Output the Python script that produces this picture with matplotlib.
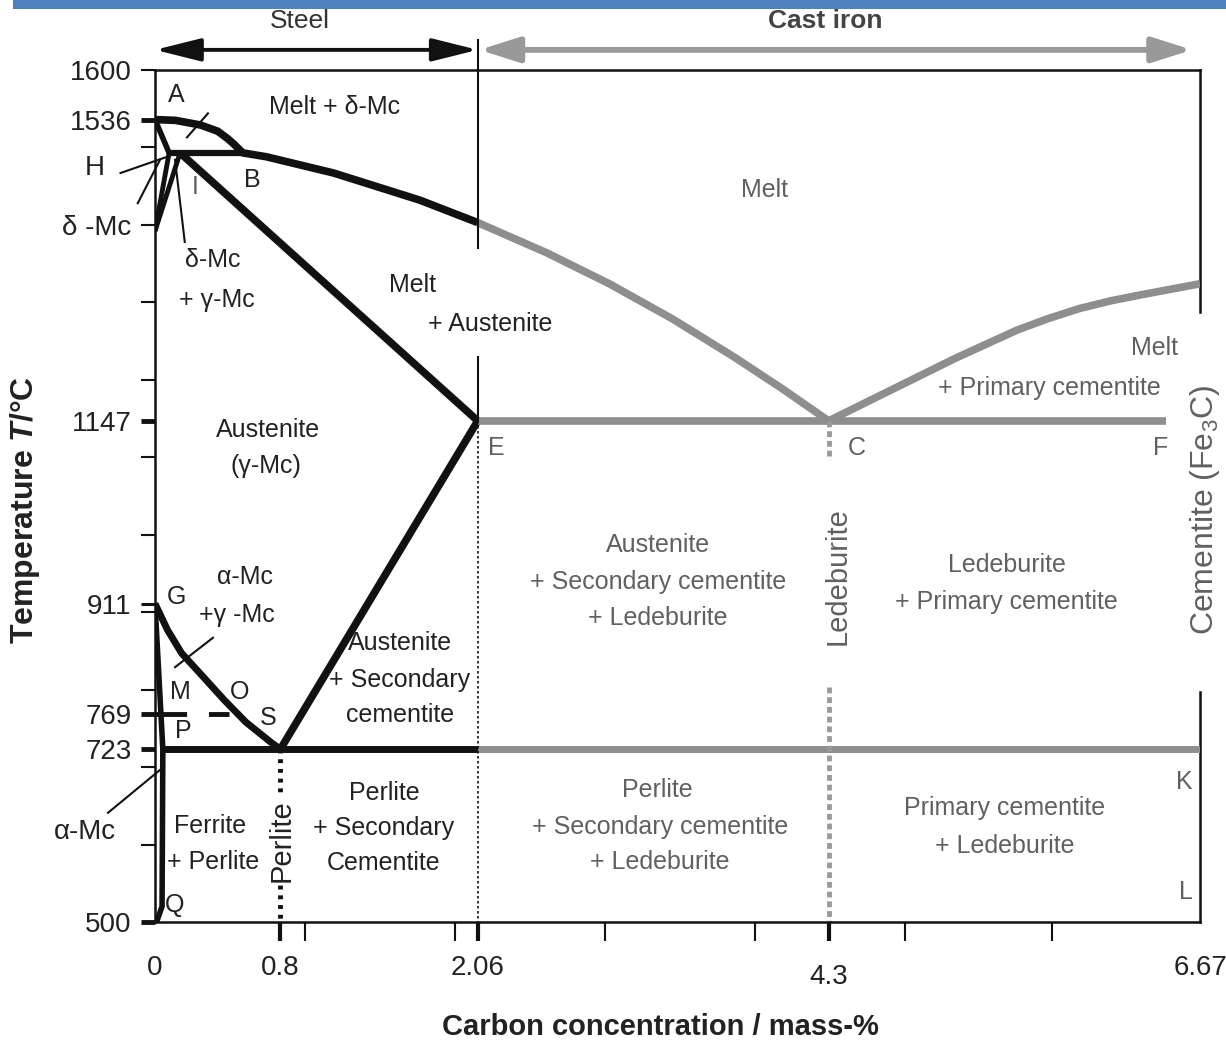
import matplotlib
matplotlib.use("Agg")
import matplotlib.pyplot as plt
from matplotlib.patches import Rectangle

plt.rcParams['font.family'] = ['Liberation Sans', 'DejaVu Sans']
plt.rcParams['mathtext.fontset'] = 'custom'
plt.rcParams['mathtext.rm'] = 'Liberation Sans'
plt.rcParams['mathtext.it'] = 'Liberation Sans:italic:bold'
plt.rcParams['mathtext.bf'] = 'Liberation Sans:bold'

# phase boundaries (carbon mass-%, temperature degC)
liq_steel_x = [0, 0.13, 0.29, 0.40, 0.46, 0.50, 0.56, 0.71, 1.14, 1.69, 2.06]
liq_steel_T = [1536, 1535, 1529, 1521, 1512, 1505, 1493, 1488, 1467, 1432, 1403]
liq_cast_x = [2.06, 2.5, 2.9, 3.3, 3.7, 4.0, 4.3]
liq_cast_T = [1403, 1364, 1324, 1279, 1229, 1189, 1147]
liq_cem_x = [4.3, 4.7, 5.1, 5.5, 5.7, 5.9, 6.1, 6.3, 6.67]
liq_cem_T = [1147, 1187, 1227, 1264, 1279, 1292, 1302, 1310, 1324]
gs_x = [0, 0.08, 0.17, 0.31, 0.44, 0.58, 0.74, 0.8]
gs_T = [911, 877, 847, 816, 787, 758, 732, 723]
gpq_x = [0, 0.05, 0.045, 0.01]
gpq_T = [911, 723, 520, 500]

A = (0, 1536)
H = (0.09, 1493)
J = (0.16, 1493)
B = (0.56, 1493)
N = (0, 1392)
E = (2.06, 1147)
C = (4.3, 1147)
F = (6.45, 1147)
S = (0.8, 723)
P = (0.05, 723)
K = (6.67, 723)
O_x = 0.47
T_curie = 769

yticks = [500, 723, 769, 911, 1147, 1400, 1536, 1600]
ytick_labels = ['500', '723', '769', '911', '1147', 'δ -Mc', '1536', '1600']
yminor = [600, 700, 800, 900, 1000, 1100, 1200, 1300, 1500]
xticks = [0, 0.8, 2.06, 4.3, 6.67]
xtick_labels = ['0', '0.8', '2.06', '4.3', '6.67']
xminor = [0.957, 1.915, 2.872, 3.829, 4.786, 5.724]

BLACK = '#111111'
GRAY = '#8e8e8e'
TBLACK = '#222222'
TGRAY = '#606060'

fig = plt.figure(figsize=(12.26, 10.43), dpi=100)
fig.add_artist(Rectangle((13 / 1226, 1 - 9 / 1043), 1, 9 / 1043,
                         transform=fig.transFigure, color='#4f81bd', lw=0))
ax = fig.add_axes([155 / 1226, 1 - 922 / 1043, 1045 / 1226, 852 / 1043])
ax.set_xlim(0, 6.67)
ax.set_ylim(500, 1600)

for s in ['left', 'top', 'bottom']:
    ax.spines[s].set_linewidth(1.8)
    ax.spines[s].set_color(BLACK)
ax.spines['right'].set_visible(False)
ax.plot([6.67, 6.67], [1600, 1287], color=BLACK, lw=1.8, clip_on=False)
ax.plot([6.67, 6.67], [797, 500], color=BLACK, lw=1.8, clip_on=False)

kw = dict(solid_capstyle='butt', solid_joinstyle='round')
# black (steel) part
ax.plot(liq_steel_x, liq_steel_T, color=BLACK, lw=5.5, **kw)
ax.plot([A[0], H[0]], [A[1], H[1]], color=BLACK, lw=4, **kw)
ax.plot([H[0], B[0]], [H[1], B[1]], color=BLACK, lw=4.5, **kw)
ax.plot([H[0], N[0]], [H[1], N[1]], color=BLACK, lw=3.5, **kw)
ax.plot([J[0], N[0]], [J[1], N[1]], color=BLACK, lw=3.5, **kw)
ax.plot([J[0], E[0]], [J[1], E[1]], color=BLACK, lw=5.5, **kw)
ax.plot([S[0], E[0]], [S[1], E[1]], color=BLACK, lw=5.5, **kw)
ax.plot(gs_x, gs_T, color=BLACK, lw=5, **kw)
ax.plot(gpq_x, gpq_T, color=BLACK, lw=4, **kw)
ax.plot([P[0], E[0]], [P[1], S[1]], color=BLACK, lw=5, **kw)
mo, = ax.plot([0, O_x], [T_curie, T_curie], color=BLACK, lw=3.5, solid_capstyle='butt')
mo.set_dashes([6.5, 4.5])
# grey (cast iron) part
ax.plot(liq_cast_x, liq_cast_T, color=GRAY, lw=5.5, **kw)
ax.plot(liq_cem_x, liq_cem_T, color=GRAY, lw=5.5, **kw)
ax.plot([E[0], F[0]], [E[1], F[1]], color=GRAY, lw=5.5, **kw)
ax.plot([E[0], K[0]], [S[1], K[1]], color=GRAY, lw=5, **kw)

# guide lines
ax.plot([2.06, 2.06], [1639, 1370], color=BLACK, lw=1.5, clip_on=False)
ax.plot([2.06, 2.06], [1229, 1147], color=BLACK, lw=1.5)
ax.plot([2.06, 2.06], [1147, 500], color=BLACK, lw=1.2, ls=(0, (1.5, 1.5)))
ax.plot([0.8, 0.8], [723, 500], color=BLACK, lw=3.5, ls=(0, (0.8, 1.2)))
ax.plot([4.3, 4.3], [1147, 1096], color='#9a9a9a', lw=3.5, ls=(0, (1.2, 0.8)))
ax.plot([4.3, 4.3], [803, 500], color='#9a9a9a', lw=3.5, ls=(0, (1.2, 0.8)))

# leader lines
leaders = [((-0.22, 1467), (0.064, 1487)), ((-0.11, 1428), (0.032, 1484)),
           ((0.19, 1378), (0.128, 1484)), ((0.204, 1513), (0.338, 1544)),
           ((0.128, 829), (0.37, 867)), ((-0.30, 641), (0.03, 696))]
for (x0, y0), (x1, y1) in leaders:
    ax.plot([x0, x1], [y0, y1], color=BLACK, lw=1.5, clip_on=False)

# steel / cast iron arrows
ax.annotate('', xy=(0.0, 1626), xytext=(2.06, 1626), annotation_clip=False,
            arrowprops=dict(arrowstyle='<|-|>,head_length=1.4,head_width=0.35',
                            mutation_scale=20, color=BLACK, lw=2.8, shrinkA=0, shrinkB=0))
ax.annotate('', xy=(2.07, 1626), xytext=(6.62, 1626), annotation_clip=False,
            arrowprops=dict(arrowstyle='<|-|>,head_length=1.2,head_width=0.38',
                            mutation_scale=20, color='#999999', lw=4.2, shrinkA=0, shrinkB=0))
ax.text(0.925, 1663, 'Steel', ha='center', va='center', fontsize=19, color='#333333')
ax.text(4.276, 1663, 'Cast iron', ha='center', va='center', fontsize=19,
        color='#444444', fontweight='bold')


def lab(x, T, s, c=TBLACK, size=18, **k):
    ax.text(x, T, s, ha='center', va='center', fontsize=size, color=c, **k)


lab(0.134, 1568, 'A')
lab(1.149, 1552, 'Melt + δ-Mc')
lab(-0.383, 1473, 'H', size=20)
lab(0.255, 1449, 'I', c=TGRAY)
lab(0.619, 1458, 'B')
lab(0.37, 1355, 'δ-Mc')
lab(0.396, 1303, '+ γ-Mc')
lab(3.893, 1445, 'Melt', c=TGRAY)
lab(1.646, 1322, 'Melt')
lab(2.138, 1272, '+ Austenite')
lab(6.38, 1241, 'Melt', c=TGRAY)
lab(5.71, 1189, '+ Primary cementite', c=TGRAY)
lab(0.721, 1135, 'Austenite')
lab(0.708, 1089, '(γ-Mc)')
lab(2.18, 1112, 'E', c=TGRAY)
lab(4.48, 1112, 'C', c=TGRAY)
lab(6.42, 1112, 'F', c=TGRAY)
lab(3.21, 987, 'Austenite', c=TGRAY)
lab(3.21, 939, '+ Secondary cementite', c=TGRAY)
lab(3.21, 892, '+ Ledeburite', c=TGRAY)
lab(5.437, 961, 'Ledeburite', c=TGRAY)
lab(5.437, 913, '+ Primary cementite', c=TGRAY)
lab(0.574, 945, 'α-Mc')
lab(0.523, 896, '+γ -Mc')
lab(0.134, 920, 'G')
lab(1.563, 860, 'Austenite')
lab(1.563, 812, '+ Secondary')
lab(1.563, 767, 'cementite')
lab(0.16, 797, 'M')
lab(0.542, 797, 'O')
lab(0.721, 763, 'S')
lab(0.179, 747, 'P')
lab(1.461, 667, 'Perlite')
lab(1.461, 621, '+ Secondary')
lab(1.461, 576, 'Cementite')
lab(0.351, 624, 'Ferrite')
lab(0.37, 577, '+ Perlite')
lab(-0.447, 616, 'α-Mc', size=20)
lab(3.204, 670, 'Perlite', c=TGRAY)
lab(3.223, 623, '+ Secondary cementite', c=TGRAY)
lab(3.223, 577, '+ Ledeburite', c=TGRAY)
lab(5.424, 647, 'Primary cementite', c=TGRAY)
lab(5.424, 598, '+ Ledeburite', c=TGRAY)
lab(6.567, 681, 'K', c=TGRAY)
lab(6.58, 539, 'L', c=TGRAY)
lab(0.128, 522, 'Q')
lab(0.81, 605, 'Perlite', size=21, rotation=90, zorder=5,
    bbox=dict(facecolor='white', edgecolor='none', pad=1))
lab(4.359, 947, 'Ledeburite', c=TGRAY, size=21, rotation=90)
lab(6.70, 1032, 'Cementite (Fe$_3$C)', c=TGRAY, size=23, rotation=90,
    bbox=dict(facecolor='white', edgecolor='none', pad=1))

# axes ticks
ax.set_yticks(yticks)
ax.set_yticklabels(ytick_labels)
ax.set_yticks(yminor, minor=True)
ax.tick_params(axis='y', which='both', direction='out', length=10, pad=7,
               labelsize=20, labelcolor=TBLACK, color=BLACK)
ax.tick_params(axis='y', which='minor', width=1.5)
for t, w in zip(ax.yaxis.get_major_ticks(), [3.5, 3.5, 3.5, 2.2, 3.5, 1.5, 3.5, 1.5]):
    t.tick1line.set_markeredgewidth(w)

ax.set_xticks(xticks)
ax.set_xticklabels(xtick_labels)
ax.set_xticks(xminor, minor=True)
ax.tick_params(axis='x', which='both', direction='out', length=14, pad=10,
               labelsize=20, labelcolor=TBLACK, color=BLACK)
ax.tick_params(axis='x', which='major', width=3)
ax.tick_params(axis='x', which='minor', width=1.5)
xt = ax.xaxis.get_major_ticks()
xt[0].tick1line.set_visible(False)
xt[-1].tick1line.set_visible(False)
xt[3].set_pad(16)

fig.text(25 / 1226, 1 - 510 / 1043, 'Temperature $T$/°C', rotation=90, ha='center',
         va='center', fontsize=23, fontweight='bold', color=TBLACK)
fig.text(660 / 1226, 1 - 1027 / 1043, 'Carbon concentration / mass-%', ha='center',
         va='center', fontsize=21, fontweight='bold', color=TBLACK)

fig.savefig('out.png', dpi=100)
